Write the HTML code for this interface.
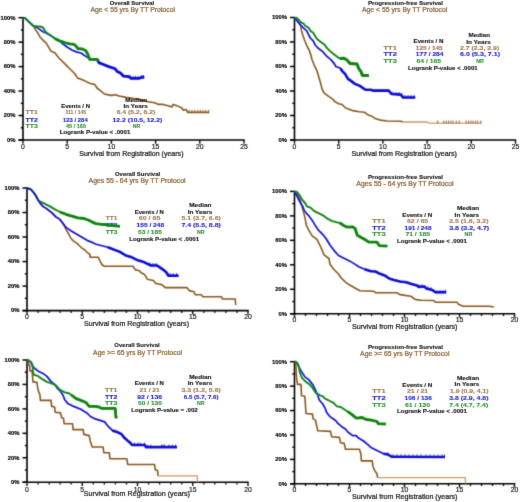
<!DOCTYPE html>
<html><head><meta charset="utf-8"><style>
html,body{margin:0;padding:0;background:#fff;width:520px;height:502px;overflow:hidden}
svg{display:block;font-family:"Liberation Sans", sans-serif}
</style></head><body>
<svg width="520" height="502" viewBox="0 0 520 502">
<defs><filter id="b" x="0" y="0" width="520" height="502" filterUnits="userSpaceOnUse"><feConvolveMatrix order="3" kernelMatrix="0.0192 0.1001 0.0192 0.1001 0.5228 0.1001 0.0192 0.1001 0.0192" edgeMode="none" preserveAlpha="false"/></filter><filter id="bt" x="0" y="0" width="520" height="502" filterUnits="userSpaceOnUse"><feConvolveMatrix order="3" kernelMatrix="0.0052 0.0619 0.0052 0.0619 0.7314 0.0619 0.0052 0.0619 0.0052" edgeMode="none" preserveAlpha="false"/></filter></defs>
<rect width="520" height="502" fill="#fff"/>
<g filter="url(#b)">
<line x1="23.00" y1="17.10" x2="23.00" y2="140.60" stroke="#000" stroke-width="1.6"/>
<line x1="18.50" y1="140.00" x2="244.70" y2="140.00" stroke="#000" stroke-width="1.6"/>
<line x1="18.50" y1="17.70" x2="23.00" y2="17.70" stroke="#000" stroke-width="1.5"/>
<line x1="20.80" y1="29.93" x2="23.00" y2="29.93" stroke="#000" stroke-width="1.4"/>
<line x1="18.50" y1="42.16" x2="23.00" y2="42.16" stroke="#000" stroke-width="1.5"/>
<line x1="20.80" y1="54.39" x2="23.00" y2="54.39" stroke="#000" stroke-width="1.4"/>
<line x1="18.50" y1="66.62" x2="23.00" y2="66.62" stroke="#000" stroke-width="1.5"/>
<line x1="20.80" y1="78.85" x2="23.00" y2="78.85" stroke="#000" stroke-width="1.4"/>
<line x1="18.50" y1="91.08" x2="23.00" y2="91.08" stroke="#000" stroke-width="1.5"/>
<line x1="20.80" y1="103.31" x2="23.00" y2="103.31" stroke="#000" stroke-width="1.4"/>
<line x1="18.50" y1="115.54" x2="23.00" y2="115.54" stroke="#000" stroke-width="1.5"/>
<line x1="20.80" y1="127.77" x2="23.00" y2="127.77" stroke="#000" stroke-width="1.4"/>
<line x1="18.50" y1="140.00" x2="23.00" y2="140.00" stroke="#000" stroke-width="1.5"/>
<line x1="23.00" y1="140.00" x2="23.00" y2="143.80" stroke="#111" stroke-width="1.4"/>
<line x1="67.20" y1="140.00" x2="67.20" y2="143.80" stroke="#111" stroke-width="1.4"/>
<line x1="111.40" y1="140.00" x2="111.40" y2="143.80" stroke="#111" stroke-width="1.4"/>
<line x1="155.60" y1="140.00" x2="155.60" y2="143.80" stroke="#111" stroke-width="1.4"/>
<line x1="199.80" y1="140.00" x2="199.80" y2="143.80" stroke="#111" stroke-width="1.4"/>
<line x1="244.00" y1="140.00" x2="244.00" y2="143.80" stroke="#111" stroke-width="1.4"/>
<polyline points="23.0,17.7 25.0,18.1 33.8,26.5 35.4,29.4 38.5,34.0 40.0,37.0 43.0,40.2 46.2,43.2 51.1,51.3 54.3,52.6 55.0,53.0 58.9,58.0 60.8,59.8 65.4,64.4 70.8,69.8 74.8,73.8 77.5,77.9 84.2,80.6 89.6,83.3 95.0,84.6 97.0,88.0 100.4,90.7 104.4,94.0 111.1,95.4 115.2,94.7 119.2,96.0 126.0,97.4 139.2,99.4 147.2,101.5 154.4,102.7 158.8,104.4 163.1,104.4 168.9,105.9 171.7,107.0 173.2,104.4 177.5,105.9 181.8,108.0 183.3,110.2 186.2,109.5 187.6,112.4 209.3,112.4" fill="none" stroke="#8a561c" stroke-width="1.6" stroke-linejoin="round" stroke-linecap="butt"/>
<line x1="189.2" y1="109.8" x2="189.2" y2="112.8" stroke="#8a561c" stroke-width="0.9"/>
<line x1="192.0" y1="109.8" x2="192.0" y2="112.8" stroke="#8a561c" stroke-width="0.9"/>
<line x1="194.8" y1="109.8" x2="194.8" y2="112.8" stroke="#8a561c" stroke-width="0.9"/>
<line x1="197.8" y1="109.8" x2="197.8" y2="112.8" stroke="#8a561c" stroke-width="0.9"/>
<line x1="200.3" y1="109.8" x2="200.3" y2="112.8" stroke="#8a561c" stroke-width="0.9"/>
<line x1="203.0" y1="109.8" x2="203.0" y2="112.8" stroke="#8a561c" stroke-width="0.9"/>
<line x1="205.8" y1="109.8" x2="205.8" y2="112.8" stroke="#8a561c" stroke-width="0.9"/>
<line x1="208.6" y1="109.8" x2="208.6" y2="112.8" stroke="#8a561c" stroke-width="0.9"/>
<polyline points="23.0,17.7 25.0,18.1 33.8,26.3 36.2,27.1 38.5,28.6 43.0,31.7 45.4,32.8 49.2,34.8 55.0,38.4 60.0,40.8 61.7,43.0 67.5,47.3 72.3,50.2 77.1,52.1 81.0,53.0 83.8,55.0 86.7,56.9 89.6,58.8 97.3,59.8 99.2,62.9 103.5,64.5 108.8,66.6 115.1,68.8 117.2,71.4 120.4,73.0 123.6,76.2 128.9,76.7 131.0,78.3 139.4,78.3 141.6,77.4 144.2,77.4" fill="none" stroke="#1010d8" stroke-width="1.7" stroke-linejoin="round" stroke-linecap="butt"/>
<polyline points="97.3,59.8 99.2,62.9 103.5,64.5 108.8,66.6 115.1,68.8 117.2,71.4 120.4,73.0 123.6,76.2 128.9,76.7 131.0,78.3 139.4,78.3 141.6,77.4 144.2,77.4" fill="none" stroke="#1010d8" stroke-width="2.8" stroke-linejoin="round" stroke-linecap="butt"/>
<polyline points="23.0,17.7 25.0,18.1 33.8,26.3 36.2,26.3 40.8,26.7 43.0,27.5 44.6,30.2 46.2,32.5 50.8,35.5 55.0,38.7 58.8,40.6 64.6,42.5 69.4,43.9 74.2,44.4 76.2,46.3 78.1,48.8 81.9,48.8 85.8,50.7 87.7,54.0 89.1,57.9 89.6,59.3 97.3,59.3 98.3,60.5" fill="none" stroke="#108410" stroke-width="1.9" stroke-linejoin="round" stroke-linecap="butt"/>
<polyline points="55.0,38.7 58.8,40.6 64.6,42.5 69.4,43.9 74.2,44.4 76.2,46.3 78.1,48.8 81.9,48.8 85.8,50.7 87.7,54.0 89.1,57.9 89.6,59.3 97.3,59.3 98.3,60.5" fill="none" stroke="#108410" stroke-width="2.8" stroke-linejoin="round" stroke-linecap="butt"/>
<line x1="130.4" y1="75.4" x2="130.4" y2="77.8" stroke="#1010d8" stroke-width="0.9"/>
<line x1="133.0" y1="75.9" x2="133.0" y2="78.3" stroke="#1010d8" stroke-width="0.9"/>
<line x1="135.5" y1="75.9" x2="135.5" y2="78.3" stroke="#1010d8" stroke-width="0.9"/>
<line x1="138.0" y1="75.9" x2="138.0" y2="78.3" stroke="#1010d8" stroke-width="0.9"/>
<line x1="141.6" y1="75.0" x2="141.6" y2="77.4" stroke="#1010d8" stroke-width="0.9"/>
<line x1="143.5" y1="75.0" x2="143.5" y2="77.4" stroke="#1010d8" stroke-width="0.9"/>
<line x1="294.50" y1="16.90" x2="294.50" y2="140.60" stroke="#000" stroke-width="1.6"/>
<line x1="290.00" y1="140.00" x2="516.20" y2="140.00" stroke="#000" stroke-width="1.6"/>
<line x1="290.00" y1="17.50" x2="294.50" y2="17.50" stroke="#000" stroke-width="1.5"/>
<line x1="292.30" y1="29.75" x2="294.50" y2="29.75" stroke="#000" stroke-width="1.4"/>
<line x1="290.00" y1="42.00" x2="294.50" y2="42.00" stroke="#000" stroke-width="1.5"/>
<line x1="292.30" y1="54.25" x2="294.50" y2="54.25" stroke="#000" stroke-width="1.4"/>
<line x1="290.00" y1="66.50" x2="294.50" y2="66.50" stroke="#000" stroke-width="1.5"/>
<line x1="292.30" y1="78.75" x2="294.50" y2="78.75" stroke="#000" stroke-width="1.4"/>
<line x1="290.00" y1="91.00" x2="294.50" y2="91.00" stroke="#000" stroke-width="1.5"/>
<line x1="292.30" y1="103.25" x2="294.50" y2="103.25" stroke="#000" stroke-width="1.4"/>
<line x1="290.00" y1="115.50" x2="294.50" y2="115.50" stroke="#000" stroke-width="1.5"/>
<line x1="292.30" y1="127.75" x2="294.50" y2="127.75" stroke="#000" stroke-width="1.4"/>
<line x1="290.00" y1="140.00" x2="294.50" y2="140.00" stroke="#000" stroke-width="1.5"/>
<line x1="294.50" y1="140.00" x2="294.50" y2="143.80" stroke="#111" stroke-width="1.4"/>
<line x1="338.70" y1="140.00" x2="338.70" y2="143.80" stroke="#111" stroke-width="1.4"/>
<line x1="382.90" y1="140.00" x2="382.90" y2="143.80" stroke="#111" stroke-width="1.4"/>
<line x1="427.10" y1="140.00" x2="427.10" y2="143.80" stroke="#111" stroke-width="1.4"/>
<line x1="471.30" y1="140.00" x2="471.30" y2="143.80" stroke="#111" stroke-width="1.4"/>
<line x1="515.50" y1="140.00" x2="515.50" y2="143.80" stroke="#111" stroke-width="1.4"/>
<polyline points="294.5,17.6 297.0,20.0 300.7,25.5 301.6,31.3 303.1,36.1 304.5,40.0 306.4,44.8 309.0,49.8 310.8,54.6 311.9,59.3 314.3,65.3 316.7,70.1 318.5,76.1 320.3,82.0 322.1,89.2 323.9,92.8 328.7,96.4 332.3,98.8 335.2,101.9 338.7,103.7 342.1,104.5 345.6,108.0 352.5,110.6 359.4,111.8 364.6,112.3 368.1,114.9 371.5,116.1 375.0,118.4 380.2,120.1 387.1,121.0 401.0,121.3 402.7,122.0" fill="none" stroke="#8a561c" stroke-width="1.6" stroke-linejoin="round" stroke-linecap="butt"/>
<polyline points="402.7,122.0 427.0,122.0 429.2,123.1 481.5,123.1" fill="none" stroke="#c49a60" stroke-width="1.3" stroke-linejoin="round" stroke-linecap="butt"/>
<line x1="437.7" y1="120.5" x2="437.7" y2="123.5" stroke="#8a561c" stroke-width="0.9"/>
<line x1="443.8" y1="120.5" x2="443.8" y2="123.5" stroke="#8a561c" stroke-width="0.9"/>
<line x1="446.2" y1="120.5" x2="446.2" y2="123.5" stroke="#8a561c" stroke-width="0.9"/>
<line x1="448.5" y1="120.5" x2="448.5" y2="123.5" stroke="#8a561c" stroke-width="0.9"/>
<line x1="450.8" y1="120.5" x2="450.8" y2="123.5" stroke="#8a561c" stroke-width="0.9"/>
<line x1="453.0" y1="120.5" x2="453.0" y2="123.5" stroke="#8a561c" stroke-width="0.9"/>
<line x1="456.2" y1="120.5" x2="456.2" y2="123.5" stroke="#8a561c" stroke-width="0.9"/>
<line x1="459.2" y1="120.5" x2="459.2" y2="123.5" stroke="#8a561c" stroke-width="0.9"/>
<line x1="466.2" y1="120.5" x2="466.2" y2="123.5" stroke="#8a561c" stroke-width="0.9"/>
<line x1="468.5" y1="120.5" x2="468.5" y2="123.5" stroke="#8a561c" stroke-width="0.9"/>
<line x1="470.8" y1="120.5" x2="470.8" y2="123.5" stroke="#8a561c" stroke-width="0.9"/>
<line x1="473.0" y1="120.5" x2="473.0" y2="123.5" stroke="#8a561c" stroke-width="0.9"/>
<line x1="475.4" y1="120.5" x2="475.4" y2="123.5" stroke="#8a561c" stroke-width="0.9"/>
<line x1="477.7" y1="120.5" x2="477.7" y2="123.5" stroke="#8a561c" stroke-width="0.9"/>
<line x1="480.8" y1="120.5" x2="480.8" y2="123.5" stroke="#8a561c" stroke-width="0.9"/>
<polyline points="294.5,17.6 297.8,21.7 300.7,25.1 303.5,28.0 306.4,30.3 308.3,34.2 310.3,38.0 313.2,40.9 315.1,44.8 317.9,48.0 322.7,51.6 326.3,55.8 331.1,59.9 334.6,64.1 335.8,66.5 340.6,68.3 342.0,70.9 345.0,73.9 348.0,78.9 351.0,80.9 354.9,83.9 359.9,85.9 363.9,88.8 365.9,89.8 370.9,89.8 372.9,90.6 388.7,90.6 391.5,94.0 400.8,94.6 403.0,97.5 415.2,97.5" fill="none" stroke="#1010d8" stroke-width="1.7" stroke-linejoin="round" stroke-linecap="butt"/>
<polyline points="340.6,68.3 342.0,70.9 345.0,73.9 348.0,78.9 351.0,80.9 354.9,83.9 359.9,85.9 363.9,88.8 365.9,89.8 370.9,89.8 372.9,90.6 388.7,90.6 391.5,94.0 400.8,94.6 403.0,97.5 415.2,97.5" fill="none" stroke="#1010d8" stroke-width="2.6" stroke-linejoin="round" stroke-linecap="butt"/>
<polyline points="294.5,17.6 296.3,17.8 298.7,19.8 300.7,22.2 303.5,23.6 305.5,26.0 308.8,27.9 310.3,30.8 313.2,32.8 315.1,36.1 317.0,39.0 320.8,41.9 324.7,44.8 326.6,47.7 329.5,50.6 333.5,54.0 338.2,57.5 340.0,58.6 344.0,58.2 347.0,60.0 350.0,63.4 357.0,64.0 358.9,68.9 360.9,71.4 362.4,75.4 368.9,75.4" fill="none" stroke="#108410" stroke-width="1.9" stroke-linejoin="round" stroke-linecap="butt"/>
<polyline points="340.0,58.6 344.0,58.2 347.0,60.0 350.0,63.4 357.0,64.0 358.9,68.9 360.9,71.4 362.4,75.4 368.9,75.4" fill="none" stroke="#108410" stroke-width="3.0" stroke-linejoin="round" stroke-linecap="butt"/>
<line x1="393.0" y1="91.7" x2="393.0" y2="94.1" stroke="#1010d8" stroke-width="0.9"/>
<line x1="396.0" y1="91.9" x2="396.0" y2="94.3" stroke="#1010d8" stroke-width="0.9"/>
<line x1="399.0" y1="92.1" x2="399.0" y2="94.5" stroke="#1010d8" stroke-width="0.9"/>
<line x1="401.9" y1="93.6" x2="401.9" y2="96.0" stroke="#1010d8" stroke-width="0.9"/>
<line x1="405.0" y1="95.1" x2="405.0" y2="97.5" stroke="#1010d8" stroke-width="0.9"/>
<line x1="408.0" y1="95.1" x2="408.0" y2="97.5" stroke="#1010d8" stroke-width="0.9"/>
<line x1="411.0" y1="95.1" x2="411.0" y2="97.5" stroke="#1010d8" stroke-width="0.9"/>
<line x1="414.0" y1="95.1" x2="414.0" y2="97.5" stroke="#1010d8" stroke-width="0.9"/>
<line x1="27.00" y1="187.40" x2="27.00" y2="311.20" stroke="#000" stroke-width="1.6"/>
<line x1="22.50" y1="310.60" x2="248.70" y2="310.60" stroke="#000" stroke-width="1.6"/>
<line x1="22.50" y1="188.00" x2="27.00" y2="188.00" stroke="#000" stroke-width="1.5"/>
<line x1="24.80" y1="200.26" x2="27.00" y2="200.26" stroke="#000" stroke-width="1.4"/>
<line x1="22.50" y1="212.52" x2="27.00" y2="212.52" stroke="#000" stroke-width="1.5"/>
<line x1="24.80" y1="224.78" x2="27.00" y2="224.78" stroke="#000" stroke-width="1.4"/>
<line x1="22.50" y1="237.04" x2="27.00" y2="237.04" stroke="#000" stroke-width="1.5"/>
<line x1="24.80" y1="249.30" x2="27.00" y2="249.30" stroke="#000" stroke-width="1.4"/>
<line x1="22.50" y1="261.56" x2="27.00" y2="261.56" stroke="#000" stroke-width="1.5"/>
<line x1="24.80" y1="273.82" x2="27.00" y2="273.82" stroke="#000" stroke-width="1.4"/>
<line x1="22.50" y1="286.08" x2="27.00" y2="286.08" stroke="#000" stroke-width="1.5"/>
<line x1="24.80" y1="298.34" x2="27.00" y2="298.34" stroke="#000" stroke-width="1.4"/>
<line x1="22.50" y1="310.60" x2="27.00" y2="310.60" stroke="#000" stroke-width="1.5"/>
<line x1="27.00" y1="310.60" x2="27.00" y2="314.40" stroke="#111" stroke-width="1.4"/>
<line x1="82.25" y1="310.60" x2="82.25" y2="314.40" stroke="#111" stroke-width="1.4"/>
<line x1="137.50" y1="310.60" x2="137.50" y2="314.40" stroke="#111" stroke-width="1.4"/>
<line x1="192.75" y1="310.60" x2="192.75" y2="314.40" stroke="#111" stroke-width="1.4"/>
<line x1="248.00" y1="310.60" x2="248.00" y2="314.40" stroke="#111" stroke-width="1.4"/>
<line x1="38.05" y1="310.60" x2="38.05" y2="312.90" stroke="#111" stroke-width="1.3"/>
<line x1="49.10" y1="310.60" x2="49.10" y2="312.90" stroke="#111" stroke-width="1.3"/>
<line x1="60.15" y1="310.60" x2="60.15" y2="312.90" stroke="#111" stroke-width="1.3"/>
<line x1="71.20" y1="310.60" x2="71.20" y2="312.90" stroke="#111" stroke-width="1.3"/>
<line x1="93.30" y1="310.60" x2="93.30" y2="312.90" stroke="#111" stroke-width="1.3"/>
<line x1="104.35" y1="310.60" x2="104.35" y2="312.90" stroke="#111" stroke-width="1.3"/>
<line x1="115.40" y1="310.60" x2="115.40" y2="312.90" stroke="#111" stroke-width="1.3"/>
<line x1="126.45" y1="310.60" x2="126.45" y2="312.90" stroke="#111" stroke-width="1.3"/>
<line x1="148.55" y1="310.60" x2="148.55" y2="312.90" stroke="#111" stroke-width="1.3"/>
<line x1="159.60" y1="310.60" x2="159.60" y2="312.90" stroke="#111" stroke-width="1.3"/>
<line x1="170.65" y1="310.60" x2="170.65" y2="312.90" stroke="#111" stroke-width="1.3"/>
<line x1="181.70" y1="310.60" x2="181.70" y2="312.90" stroke="#111" stroke-width="1.3"/>
<line x1="203.80" y1="310.60" x2="203.80" y2="312.90" stroke="#111" stroke-width="1.3"/>
<line x1="214.85" y1="310.60" x2="214.85" y2="312.90" stroke="#111" stroke-width="1.3"/>
<line x1="225.90" y1="310.60" x2="225.90" y2="312.90" stroke="#111" stroke-width="1.3"/>
<line x1="236.95" y1="310.60" x2="236.95" y2="312.90" stroke="#111" stroke-width="1.3"/>
<text x="105.8" y="227.0" textLength="11.7" lengthAdjust="spacingAndGlyphs" fill="#2020d0" stroke="#2020d0" stroke-width="0.12" font-size="6.2" font-weight="bold">TT2</text>
<polyline points="27.0,188.0 31.0,189.5 34.0,193.0 36.0,196.0 38.0,199.9 42.9,206.4 46.9,208.9 51.9,212.9 55.9,216.9 59.9,219.4 62.8,222.8 65.8,228.8 68.4,233.5 70.8,238.2 73.1,240.6 77.9,244.2 81.5,247.8 85.1,250.2 88.7,253.8 90.0,254.3 90.0,257.3 98.4,257.3 99.6,260.3 101.9,264.5 104.3,266.3 133.0,266.3 135.4,269.9 139.0,270.5 141.4,272.9 143.8,274.0 145.0,275.1 147.4,279.3 153.4,280.5 155.8,283.5 161.7,284.6 165.3,287.6 186.8,287.6 189.2,290.6 194.0,291.8 195.2,294.8 201.3,294.8 202.9,296.7 221.5,296.7 222.5,299.0 235.2,299.0 235.7,305.0" fill="none" stroke="#8a561c" stroke-width="1.6" stroke-linejoin="round" stroke-linecap="butt"/>
<polyline points="27.0,188.0 31.0,189.5 34.0,193.0 36.0,196.0 38.0,199.9 39.9,201.4 44.9,203.9 49.9,206.4 54.9,209.4 60.0,212.0 66.0,214.3 71.9,216.1 77.9,217.9 83.9,218.5 88.7,220.3 92.3,222.1 95.8,223.6 100.0,224.2 104.6,224.5 109.2,225.3 115.4,225.8 120.0,226.4" fill="none" stroke="#108410" stroke-width="1.9" stroke-linejoin="round" stroke-linecap="butt"/>
<polyline points="60.0,212.0 66.0,214.3 71.9,216.1 77.9,217.9 83.9,218.5 88.7,220.3 92.3,222.1 95.8,223.6 100.0,224.2 104.6,224.5 109.2,225.3 115.4,225.8 120.0,226.4" fill="none" stroke="#108410" stroke-width="2.8" stroke-linejoin="round" stroke-linecap="butt"/>
<polyline points="27.0,188.0 31.0,189.5 34.0,193.0 36.0,196.0 38.0,199.9 39.9,202.9 42.9,206.4 46.9,208.9 51.9,212.9 55.9,216.9 59.9,219.4 62.4,222.7 66.0,227.5 69.6,229.9 75.5,233.5 81.5,237.0 87.5,240.6 92.3,242.4 96.0,244.2 107.9,247.2 113.9,249.6 119.9,251.9 125.8,255.5 131.8,257.3 137.8,260.3 143.8,262.1 151.0,265.5 157.0,265.5 160.5,267.9 164.1,270.3 166.5,272.7 168.3,275.7 178.5,275.7" fill="none" stroke="#1010d8" stroke-width="1.7" stroke-linejoin="round" stroke-linecap="butt"/>
<polyline points="107.9,247.2 113.9,249.6 119.9,251.9 125.8,255.5 131.8,257.3 137.8,260.3 143.8,262.1 151.0,265.5 157.0,265.5 160.5,267.9 164.1,270.3 166.5,272.7 168.3,275.7 178.5,275.7" fill="none" stroke="#1010d8" stroke-width="2.6" stroke-linejoin="round" stroke-linecap="butt"/>
<line x1="150.0" y1="262.6" x2="150.0" y2="265.0" stroke="#1010d8" stroke-width="0.9"/>
<line x1="153.0" y1="263.1" x2="153.0" y2="265.5" stroke="#1010d8" stroke-width="0.9"/>
<line x1="156.0" y1="263.1" x2="156.0" y2="265.5" stroke="#1010d8" stroke-width="0.9"/>
<line x1="170.0" y1="273.3" x2="170.0" y2="275.7" stroke="#1010d8" stroke-width="0.9"/>
<line x1="173.0" y1="273.3" x2="173.0" y2="275.7" stroke="#1010d8" stroke-width="0.9"/>
<line x1="176.5" y1="273.3" x2="176.5" y2="275.7" stroke="#1010d8" stroke-width="0.9"/>
<line x1="294.50" y1="190.80" x2="294.50" y2="314.35" stroke="#000" stroke-width="1.6"/>
<line x1="290.00" y1="313.75" x2="515.20" y2="313.75" stroke="#000" stroke-width="1.6"/>
<line x1="290.00" y1="191.40" x2="294.50" y2="191.40" stroke="#000" stroke-width="1.5"/>
<line x1="292.30" y1="203.63" x2="294.50" y2="203.63" stroke="#000" stroke-width="1.4"/>
<line x1="290.00" y1="215.87" x2="294.50" y2="215.87" stroke="#000" stroke-width="1.5"/>
<line x1="292.30" y1="228.11" x2="294.50" y2="228.11" stroke="#000" stroke-width="1.4"/>
<line x1="290.00" y1="240.34" x2="294.50" y2="240.34" stroke="#000" stroke-width="1.5"/>
<line x1="292.30" y1="252.57" x2="294.50" y2="252.57" stroke="#000" stroke-width="1.4"/>
<line x1="290.00" y1="264.81" x2="294.50" y2="264.81" stroke="#000" stroke-width="1.5"/>
<line x1="292.30" y1="277.05" x2="294.50" y2="277.05" stroke="#000" stroke-width="1.4"/>
<line x1="290.00" y1="289.28" x2="294.50" y2="289.28" stroke="#000" stroke-width="1.5"/>
<line x1="292.30" y1="301.51" x2="294.50" y2="301.51" stroke="#000" stroke-width="1.4"/>
<line x1="290.00" y1="313.75" x2="294.50" y2="313.75" stroke="#000" stroke-width="1.5"/>
<line x1="294.50" y1="313.75" x2="294.50" y2="317.55" stroke="#111" stroke-width="1.4"/>
<line x1="349.50" y1="313.75" x2="349.50" y2="317.55" stroke="#111" stroke-width="1.4"/>
<line x1="404.50" y1="313.75" x2="404.50" y2="317.55" stroke="#111" stroke-width="1.4"/>
<line x1="459.50" y1="313.75" x2="459.50" y2="317.55" stroke="#111" stroke-width="1.4"/>
<line x1="514.50" y1="313.75" x2="514.50" y2="317.55" stroke="#111" stroke-width="1.4"/>
<line x1="305.50" y1="313.75" x2="305.50" y2="316.05" stroke="#111" stroke-width="1.3"/>
<line x1="316.50" y1="313.75" x2="316.50" y2="316.05" stroke="#111" stroke-width="1.3"/>
<line x1="327.50" y1="313.75" x2="327.50" y2="316.05" stroke="#111" stroke-width="1.3"/>
<line x1="338.50" y1="313.75" x2="338.50" y2="316.05" stroke="#111" stroke-width="1.3"/>
<line x1="360.50" y1="313.75" x2="360.50" y2="316.05" stroke="#111" stroke-width="1.3"/>
<line x1="371.50" y1="313.75" x2="371.50" y2="316.05" stroke="#111" stroke-width="1.3"/>
<line x1="382.50" y1="313.75" x2="382.50" y2="316.05" stroke="#111" stroke-width="1.3"/>
<line x1="393.50" y1="313.75" x2="393.50" y2="316.05" stroke="#111" stroke-width="1.3"/>
<line x1="415.50" y1="313.75" x2="415.50" y2="316.05" stroke="#111" stroke-width="1.3"/>
<line x1="426.50" y1="313.75" x2="426.50" y2="316.05" stroke="#111" stroke-width="1.3"/>
<line x1="437.50" y1="313.75" x2="437.50" y2="316.05" stroke="#111" stroke-width="1.3"/>
<line x1="448.50" y1="313.75" x2="448.50" y2="316.05" stroke="#111" stroke-width="1.3"/>
<line x1="470.50" y1="313.75" x2="470.50" y2="316.05" stroke="#111" stroke-width="1.3"/>
<line x1="481.50" y1="313.75" x2="481.50" y2="316.05" stroke="#111" stroke-width="1.3"/>
<line x1="492.50" y1="313.75" x2="492.50" y2="316.05" stroke="#111" stroke-width="1.3"/>
<line x1="503.50" y1="313.75" x2="503.50" y2="316.05" stroke="#111" stroke-width="1.3"/>
<polyline points="294.5,191.3 297.0,193.0 300.0,200.0 303.0,209.9 304.0,213.9 305.0,217.9 305.9,222.9 306.2,225.0 308.6,229.8 312.2,235.8 317.0,239.3 320.5,246.5 324.1,254.9 328.9,258.5 330.1,264.4 333.7,269.2 338.5,274.0 340.8,277.6 345.6,282.3 349.2,284.7 354.0,287.5 360.0,290.8 373.8,291.2 375.4,292.8 396.9,292.8 400.0,294.6 410.8,296.2 413.8,298.5 416.0,299.6 421.5,300.3 433.8,300.5 435.4,302.3 456.9,302.3 458.5,304.2 463.1,306.2 489.2,306.2 493.8,307.0" fill="none" stroke="#8a561c" stroke-width="1.6" stroke-linejoin="round" stroke-linecap="butt"/>
<polyline points="294.5,191.3 297.0,196.0 300.0,202.0 303.0,206.9 304.0,209.9 305.9,212.9 308.9,215.9 311.9,219.9 314.9,224.9 318.1,229.8 322.9,234.6 326.5,239.3 330.1,245.3 333.7,250.1 338.5,255.5 344.4,258.5 350.4,261.4 355.2,264.4 358.8,266.8 364.6,269.2 370.8,271.2 375.4,271.5 380.0,273.8 384.6,275.4 389.2,278.5 393.8,280.0 400.0,281.5 406.2,282.3 410.8,283.8 416.9,285.4 418.5,286.9 424.6,286.5 426.2,288.5 432.3,290.0 435.4,292.3 446.2,292.3" fill="none" stroke="#1010d8" stroke-width="1.7" stroke-linejoin="round" stroke-linecap="butt"/>
<polyline points="364.6,269.2 370.8,271.2 375.4,271.5 380.0,273.8 384.6,275.4 389.2,278.5 393.8,280.0 400.0,281.5 406.2,282.3 410.8,283.8 416.9,285.4 418.5,286.9 424.6,286.5 426.2,288.5 432.3,290.0 435.4,292.3 446.2,292.3" fill="none" stroke="#1010d8" stroke-width="2.6" stroke-linejoin="round" stroke-linecap="butt"/>
<polyline points="294.5,191.3 297.0,192.0 299.5,195.0 301.5,199.0 305.0,203.0 307.0,206.4 310.9,207.9 313.9,210.9 318.9,213.4 323.9,215.9 327.9,218.9 331.8,220.9 336.8,222.4 340.0,223.0 343.5,225.4 346.9,227.1 352.7,226.8 355.0,228.3 357.3,235.2 360.8,237.2 365.4,239.8 368.8,242.1 376.9,242.1 379.2,245.6 387.3,246.1" fill="none" stroke="#108410" stroke-width="1.9" stroke-linejoin="round" stroke-linecap="butt"/>
<polyline points="340.0,223.0 343.5,225.4 346.9,227.1 352.7,226.8 355.0,228.3 357.3,235.2 360.8,237.2 365.4,239.8 368.8,242.1 376.9,242.1 379.2,245.6 387.3,246.1" fill="none" stroke="#108410" stroke-width="2.8" stroke-linejoin="round" stroke-linecap="butt"/>
<line x1="419.0" y1="284.5" x2="419.0" y2="286.9" stroke="#1010d8" stroke-width="0.9"/>
<line x1="422.0" y1="284.3" x2="422.0" y2="286.7" stroke="#1010d8" stroke-width="0.9"/>
<line x1="428.0" y1="286.5" x2="428.0" y2="288.9" stroke="#1010d8" stroke-width="0.9"/>
<line x1="431.0" y1="287.3" x2="431.0" y2="289.7" stroke="#1010d8" stroke-width="0.9"/>
<line x1="437.0" y1="289.9" x2="437.0" y2="292.3" stroke="#1010d8" stroke-width="0.9"/>
<line x1="440.0" y1="289.9" x2="440.0" y2="292.3" stroke="#1010d8" stroke-width="0.9"/>
<line x1="443.0" y1="289.9" x2="443.0" y2="292.3" stroke="#1010d8" stroke-width="0.9"/>
<line x1="445.5" y1="289.9" x2="445.5" y2="292.3" stroke="#1010d8" stroke-width="0.9"/>
<line x1="27.00" y1="359.40" x2="27.00" y2="482.80" stroke="#000" stroke-width="1.6"/>
<line x1="22.50" y1="482.20" x2="248.70" y2="482.20" stroke="#000" stroke-width="1.6"/>
<line x1="22.50" y1="360.00" x2="27.00" y2="360.00" stroke="#000" stroke-width="1.5"/>
<line x1="24.80" y1="372.22" x2="27.00" y2="372.22" stroke="#000" stroke-width="1.4"/>
<line x1="22.50" y1="384.44" x2="27.00" y2="384.44" stroke="#000" stroke-width="1.5"/>
<line x1="24.80" y1="396.66" x2="27.00" y2="396.66" stroke="#000" stroke-width="1.4"/>
<line x1="22.50" y1="408.88" x2="27.00" y2="408.88" stroke="#000" stroke-width="1.5"/>
<line x1="24.80" y1="421.10" x2="27.00" y2="421.10" stroke="#000" stroke-width="1.4"/>
<line x1="22.50" y1="433.32" x2="27.00" y2="433.32" stroke="#000" stroke-width="1.5"/>
<line x1="24.80" y1="445.54" x2="27.00" y2="445.54" stroke="#000" stroke-width="1.4"/>
<line x1="22.50" y1="457.76" x2="27.00" y2="457.76" stroke="#000" stroke-width="1.5"/>
<line x1="24.80" y1="469.98" x2="27.00" y2="469.98" stroke="#000" stroke-width="1.4"/>
<line x1="22.50" y1="482.20" x2="27.00" y2="482.20" stroke="#000" stroke-width="1.5"/>
<line x1="27.00" y1="482.20" x2="27.00" y2="486.00" stroke="#111" stroke-width="1.4"/>
<line x1="82.25" y1="482.20" x2="82.25" y2="486.00" stroke="#111" stroke-width="1.4"/>
<line x1="137.50" y1="482.20" x2="137.50" y2="486.00" stroke="#111" stroke-width="1.4"/>
<line x1="192.75" y1="482.20" x2="192.75" y2="486.00" stroke="#111" stroke-width="1.4"/>
<line x1="248.00" y1="482.20" x2="248.00" y2="486.00" stroke="#111" stroke-width="1.4"/>
<line x1="38.05" y1="482.20" x2="38.05" y2="484.50" stroke="#111" stroke-width="1.3"/>
<line x1="49.10" y1="482.20" x2="49.10" y2="484.50" stroke="#111" stroke-width="1.3"/>
<line x1="60.15" y1="482.20" x2="60.15" y2="484.50" stroke="#111" stroke-width="1.3"/>
<line x1="71.20" y1="482.20" x2="71.20" y2="484.50" stroke="#111" stroke-width="1.3"/>
<line x1="93.30" y1="482.20" x2="93.30" y2="484.50" stroke="#111" stroke-width="1.3"/>
<line x1="104.35" y1="482.20" x2="104.35" y2="484.50" stroke="#111" stroke-width="1.3"/>
<line x1="115.40" y1="482.20" x2="115.40" y2="484.50" stroke="#111" stroke-width="1.3"/>
<line x1="126.45" y1="482.20" x2="126.45" y2="484.50" stroke="#111" stroke-width="1.3"/>
<line x1="148.55" y1="482.20" x2="148.55" y2="484.50" stroke="#111" stroke-width="1.3"/>
<line x1="159.60" y1="482.20" x2="159.60" y2="484.50" stroke="#111" stroke-width="1.3"/>
<line x1="170.65" y1="482.20" x2="170.65" y2="484.50" stroke="#111" stroke-width="1.3"/>
<line x1="181.70" y1="482.20" x2="181.70" y2="484.50" stroke="#111" stroke-width="1.3"/>
<line x1="203.80" y1="482.20" x2="203.80" y2="484.50" stroke="#111" stroke-width="1.3"/>
<line x1="214.85" y1="482.20" x2="214.85" y2="484.50" stroke="#111" stroke-width="1.3"/>
<line x1="225.90" y1="482.20" x2="225.90" y2="484.50" stroke="#111" stroke-width="1.3"/>
<line x1="236.95" y1="482.20" x2="236.95" y2="484.50" stroke="#111" stroke-width="1.3"/>
<polyline points="27.0,360.0 28.0,360.0 28.5,365.0 29.5,365.0 30.0,370.9 32.0,370.9 32.5,375.9 33.0,381.9 37.0,382.4 37.5,386.9 38.4,390.9 39.9,394.8 40.4,400.4 51.0,400.4 51.6,406.4 54.6,407.0 55.2,412.3 60.5,412.9 61.7,417.7 63.5,418.3 64.1,423.7 72.5,423.7 73.1,429.6 83.2,429.6 83.8,434.4 89.2,435.6 90.4,441.6 92.2,447.0 103.1,447.0 103.8,452.7 109.2,452.7 110.0,458.8 126.9,458.8 127.7,464.5 154.6,464.5 155.2,469.8 157.5,470.4 158.1,475.9" fill="none" stroke="#8a561c" stroke-width="1.6" stroke-linejoin="round" stroke-linecap="butt"/>
<polyline points="158.1,475.9 197.3,475.9 197.5,481.9" fill="none" stroke="#c49a60" stroke-width="1.3" stroke-linejoin="round" stroke-linecap="butt"/>
<polyline points="27.0,360.0 28.0,360.0 31.0,363.0 33.0,367.0 37.9,370.9 42.9,373.4 46.9,376.4 50.9,381.4 54.9,384.4 56.9,387.9 60.9,391.9 62.9,395.0 64.7,399.8 67.7,403.4 73.7,406.4 80.8,409.3 86.8,412.9 90.4,416.5 95.2,418.9 100.0,420.4 104.6,421.9 107.7,425.8 112.3,430.4 116.9,431.9 121.5,434.2 124.6,438.1 129.2,441.9 132.3,445.0 144.6,445.0 146.2,447.1 177.0,447.1" fill="none" stroke="#1010d8" stroke-width="1.7" stroke-linejoin="round" stroke-linecap="butt"/>
<polyline points="112.3,430.4 116.9,431.9 121.5,434.2 124.6,438.1 129.2,441.9 132.3,445.0 144.6,445.0 146.2,447.1 177.0,447.1" fill="none" stroke="#1010d8" stroke-width="2.6" stroke-linejoin="round" stroke-linecap="butt"/>
<polyline points="27.0,360.0 28.0,360.0 31.0,362.0 32.5,365.0 33.0,371.9 34.0,374.9 37.9,375.9 41.9,378.9 46.9,381.9 52.9,383.9 55.9,385.4 59.9,389.9 64.8,392.4 68.8,393.3 71.3,395.0 76.1,398.6 80.8,400.4 85.6,402.2 89.2,406.4 95.2,406.4 99.0,407.0 101.7,408.4 115.2,408.4 115.9,417.1 117.2,417.8" fill="none" stroke="#108410" stroke-width="1.9" stroke-linejoin="round" stroke-linecap="butt"/>
<polyline points="71.3,395.0 76.1,398.6 80.8,400.4 85.6,402.2 89.2,406.4 95.2,406.4 99.0,407.0 101.7,408.4 115.2,408.4 115.9,417.1 117.2,417.8" fill="none" stroke="#108410" stroke-width="2.8" stroke-linejoin="round" stroke-linecap="butt"/>
<line x1="134.6" y1="442.6" x2="134.6" y2="445.0" stroke="#1010d8" stroke-width="0.9"/>
<line x1="137.7" y1="442.6" x2="137.7" y2="445.0" stroke="#1010d8" stroke-width="0.9"/>
<line x1="140.0" y1="442.6" x2="140.0" y2="445.0" stroke="#1010d8" stroke-width="0.9"/>
<line x1="144.6" y1="442.6" x2="144.6" y2="445.0" stroke="#1010d8" stroke-width="0.9"/>
<line x1="147.7" y1="444.7" x2="147.7" y2="447.1" stroke="#1010d8" stroke-width="0.9"/>
<line x1="150.8" y1="444.7" x2="150.8" y2="447.1" stroke="#1010d8" stroke-width="0.9"/>
<line x1="161.5" y1="444.7" x2="161.5" y2="447.1" stroke="#1010d8" stroke-width="0.9"/>
<line x1="163.0" y1="444.7" x2="163.0" y2="447.1" stroke="#1010d8" stroke-width="0.9"/>
<line x1="164.6" y1="444.7" x2="164.6" y2="447.1" stroke="#1010d8" stroke-width="0.9"/>
<line x1="169.2" y1="444.7" x2="169.2" y2="447.1" stroke="#1010d8" stroke-width="0.9"/>
<line x1="172.3" y1="444.7" x2="172.3" y2="447.1" stroke="#1010d8" stroke-width="0.9"/>
<line x1="175.4" y1="444.7" x2="175.4" y2="447.1" stroke="#1010d8" stroke-width="0.9"/>
<line x1="294.50" y1="361.10" x2="294.50" y2="484.40" stroke="#000" stroke-width="1.6"/>
<line x1="290.00" y1="483.80" x2="515.20" y2="483.80" stroke="#000" stroke-width="1.6"/>
<line x1="290.00" y1="361.70" x2="294.50" y2="361.70" stroke="#000" stroke-width="1.5"/>
<line x1="292.30" y1="373.91" x2="294.50" y2="373.91" stroke="#000" stroke-width="1.4"/>
<line x1="290.00" y1="386.12" x2="294.50" y2="386.12" stroke="#000" stroke-width="1.5"/>
<line x1="292.30" y1="398.33" x2="294.50" y2="398.33" stroke="#000" stroke-width="1.4"/>
<line x1="290.00" y1="410.54" x2="294.50" y2="410.54" stroke="#000" stroke-width="1.5"/>
<line x1="292.30" y1="422.75" x2="294.50" y2="422.75" stroke="#000" stroke-width="1.4"/>
<line x1="290.00" y1="434.96" x2="294.50" y2="434.96" stroke="#000" stroke-width="1.5"/>
<line x1="292.30" y1="447.17" x2="294.50" y2="447.17" stroke="#000" stroke-width="1.4"/>
<line x1="290.00" y1="459.38" x2="294.50" y2="459.38" stroke="#000" stroke-width="1.5"/>
<line x1="292.30" y1="471.59" x2="294.50" y2="471.59" stroke="#000" stroke-width="1.4"/>
<line x1="290.00" y1="483.80" x2="294.50" y2="483.80" stroke="#000" stroke-width="1.5"/>
<line x1="294.50" y1="483.80" x2="294.50" y2="487.60" stroke="#111" stroke-width="1.4"/>
<line x1="349.50" y1="483.80" x2="349.50" y2="487.60" stroke="#111" stroke-width="1.4"/>
<line x1="404.50" y1="483.80" x2="404.50" y2="487.60" stroke="#111" stroke-width="1.4"/>
<line x1="459.50" y1="483.80" x2="459.50" y2="487.60" stroke="#111" stroke-width="1.4"/>
<line x1="514.50" y1="483.80" x2="514.50" y2="487.60" stroke="#111" stroke-width="1.4"/>
<line x1="305.50" y1="483.80" x2="305.50" y2="486.10" stroke="#111" stroke-width="1.3"/>
<line x1="316.50" y1="483.80" x2="316.50" y2="486.10" stroke="#111" stroke-width="1.3"/>
<line x1="327.50" y1="483.80" x2="327.50" y2="486.10" stroke="#111" stroke-width="1.3"/>
<line x1="338.50" y1="483.80" x2="338.50" y2="486.10" stroke="#111" stroke-width="1.3"/>
<line x1="360.50" y1="483.80" x2="360.50" y2="486.10" stroke="#111" stroke-width="1.3"/>
<line x1="371.50" y1="483.80" x2="371.50" y2="486.10" stroke="#111" stroke-width="1.3"/>
<line x1="382.50" y1="483.80" x2="382.50" y2="486.10" stroke="#111" stroke-width="1.3"/>
<line x1="393.50" y1="483.80" x2="393.50" y2="486.10" stroke="#111" stroke-width="1.3"/>
<line x1="415.50" y1="483.80" x2="415.50" y2="486.10" stroke="#111" stroke-width="1.3"/>
<line x1="426.50" y1="483.80" x2="426.50" y2="486.10" stroke="#111" stroke-width="1.3"/>
<line x1="437.50" y1="483.80" x2="437.50" y2="486.10" stroke="#111" stroke-width="1.3"/>
<line x1="448.50" y1="483.80" x2="448.50" y2="486.10" stroke="#111" stroke-width="1.3"/>
<line x1="470.50" y1="483.80" x2="470.50" y2="486.10" stroke="#111" stroke-width="1.3"/>
<line x1="481.50" y1="483.80" x2="481.50" y2="486.10" stroke="#111" stroke-width="1.3"/>
<line x1="492.50" y1="483.80" x2="492.50" y2="486.10" stroke="#111" stroke-width="1.3"/>
<line x1="503.50" y1="483.80" x2="503.50" y2="486.10" stroke="#111" stroke-width="1.3"/>
<polyline points="294.5,361.5 295.5,361.5 296.0,368.0 296.5,377.9 297.5,384.4 301.0,384.4 301.5,395.8 304.8,396.2 305.4,404.6 306.0,413.5 312.5,414.1 313.1,418.9 315.5,420.1 316.7,426.1 317.9,430.8 330.5,431.4 331.7,436.8 339.4,437.4 340.6,442.8 344.2,443.4 345.4,449.2 359.4,449.2 360.8,453.5 361.4,460.9 372.2,460.9 372.9,466.2 374.9,471.0 376.9,473.6 377.6,477.7" fill="none" stroke="#8a561c" stroke-width="1.6" stroke-linejoin="round" stroke-linecap="butt"/>
<polyline points="377.6,477.7 465.2,477.7 465.5,483.3" fill="none" stroke="#c49a60" stroke-width="1.3" stroke-linejoin="round" stroke-linecap="butt"/>
<polyline points="294.5,361.5 296.0,362.0 298.0,365.0 301.0,371.0 304.9,376.9 308.9,379.9 312.9,384.9 315.9,390.9 317.9,395.8 319.1,399.8 322.7,404.0 325.1,408.1 326.3,411.7 328.7,415.3 332.3,418.3 335.8,420.7 338.2,423.7 341.8,426.7 345.4,429.0 347.8,432.0 352.6,435.6 356.2,435.6 358.1,437.7 363.5,441.0 367.5,444.4 371.5,447.8 376.9,450.5 383.6,453.8 387.7,454.5 391.7,456.7 445.0,456.9" fill="none" stroke="#1010d8" stroke-width="1.7" stroke-linejoin="round" stroke-linecap="butt"/>
<polyline points="383.6,453.8 387.7,454.5 391.7,456.7 445.0,456.9" fill="none" stroke="#1010d8" stroke-width="2.5" stroke-linejoin="round" stroke-linecap="butt"/>
<polyline points="294.5,361.5 296.0,362.0 298.0,364.0 299.0,368.0 300.0,373.0 302.0,377.9 304.9,380.9 308.9,383.9 311.9,386.9 315.9,392.9 319.9,395.4 322.9,396.3 325.1,398.6 329.9,401.0 333.5,402.8 337.0,406.4 340.6,407.0 344.2,409.3 347.8,411.7 351.4,414.1 355.0,417.1 356.7,418.2 362.1,417.5 366.2,419.5 371.5,420.2 376.9,421.5 378.3,423.6 385.7,424.0" fill="none" stroke="#108410" stroke-width="1.9" stroke-linejoin="round" stroke-linecap="butt"/>
<polyline points="347.8,411.7 351.4,414.1 355.0,417.1 356.7,418.2 362.1,417.5 366.2,419.5 371.5,420.2 376.9,421.5 378.3,423.6 385.7,424.0" fill="none" stroke="#108410" stroke-width="2.8" stroke-linejoin="round" stroke-linecap="butt"/>
<line x1="388.0" y1="452.3" x2="388.0" y2="454.7" stroke="#1010d8" stroke-width="0.9"/>
<line x1="393.0" y1="454.3" x2="393.0" y2="456.7" stroke="#1010d8" stroke-width="0.9"/>
<line x1="397.0" y1="454.3" x2="397.0" y2="456.7" stroke="#1010d8" stroke-width="0.9"/>
<line x1="401.0" y1="454.3" x2="401.0" y2="456.7" stroke="#1010d8" stroke-width="0.9"/>
<line x1="405.0" y1="454.3" x2="405.0" y2="456.7" stroke="#1010d8" stroke-width="0.9"/>
<line x1="409.0" y1="454.4" x2="409.0" y2="456.8" stroke="#1010d8" stroke-width="0.9"/>
<line x1="413.0" y1="454.4" x2="413.0" y2="456.8" stroke="#1010d8" stroke-width="0.9"/>
<line x1="417.0" y1="454.4" x2="417.0" y2="456.8" stroke="#1010d8" stroke-width="0.9"/>
<line x1="421.0" y1="454.4" x2="421.0" y2="456.8" stroke="#1010d8" stroke-width="0.9"/>
<line x1="426.0" y1="454.4" x2="426.0" y2="456.8" stroke="#1010d8" stroke-width="0.9"/>
<line x1="430.0" y1="454.4" x2="430.0" y2="456.8" stroke="#1010d8" stroke-width="0.9"/>
<line x1="434.0" y1="454.5" x2="434.0" y2="456.9" stroke="#1010d8" stroke-width="0.9"/>
<line x1="438.0" y1="454.5" x2="438.0" y2="456.9" stroke="#1010d8" stroke-width="0.9"/>
<line x1="442.0" y1="454.5" x2="442.0" y2="456.9" stroke="#1010d8" stroke-width="0.9"/>
<line x1="444.5" y1="454.5" x2="444.5" y2="456.9" stroke="#1010d8" stroke-width="0.9"/>
</g>
<g filter="url(#bt)">
<text x="0.4" y="19.5" textLength="15.0" lengthAdjust="spacingAndGlyphs" fill="#111" stroke="#111" stroke-width="0.2" font-size="6.2" font-weight="bold">100%</text>
<text x="3.7" y="44.0" textLength="11.7" lengthAdjust="spacingAndGlyphs" fill="#111" stroke="#111" stroke-width="0.2" font-size="6.2" font-weight="bold">80%</text>
<text x="3.7" y="68.4" textLength="11.7" lengthAdjust="spacingAndGlyphs" fill="#111" stroke="#111" stroke-width="0.2" font-size="6.2" font-weight="bold">60%</text>
<text x="3.7" y="92.9" textLength="11.7" lengthAdjust="spacingAndGlyphs" fill="#111" stroke="#111" stroke-width="0.2" font-size="6.2" font-weight="bold">40%</text>
<text x="3.7" y="117.3" textLength="11.7" lengthAdjust="spacingAndGlyphs" fill="#111" stroke="#111" stroke-width="0.2" font-size="6.2" font-weight="bold">20%</text>
<text x="6.9" y="141.8" textLength="8.5" lengthAdjust="spacingAndGlyphs" fill="#111" stroke="#111" stroke-width="0.2" font-size="6.2" font-weight="bold">0%</text>
<text x="23.0" y="149.2" text-anchor="middle" fill="#222" stroke="#222" stroke-width="0.18" font-size="6.8" font-weight="normal">0</text>
<text x="67.2" y="149.2" text-anchor="middle" fill="#222" stroke="#222" stroke-width="0.18" font-size="6.8" font-weight="normal">5</text>
<text x="111.4" y="149.2" text-anchor="middle" fill="#222" stroke="#222" stroke-width="0.18" font-size="6.8" font-weight="normal">10</text>
<text x="155.6" y="149.2" text-anchor="middle" fill="#222" stroke="#222" stroke-width="0.18" font-size="6.8" font-weight="normal">15</text>
<text x="199.8" y="149.2" text-anchor="middle" fill="#222" stroke="#222" stroke-width="0.18" font-size="6.8" font-weight="normal">20</text>
<text x="244.0" y="149.2" text-anchor="middle" fill="#222" stroke="#222" stroke-width="0.18" font-size="6.8" font-weight="normal">25</text>
<text x="109.8" y="5.0" textLength="44.4" lengthAdjust="spacingAndGlyphs" fill="#111" stroke="#111" stroke-width="0.12" font-size="6.2" font-weight="bold">Overall Survival</text>
<text x="90.4" y="12.2" textLength="84.6" lengthAdjust="spacingAndGlyphs" fill="#8a6030" stroke="#8a6030" stroke-width="0.22" font-size="6.6" font-weight="normal">Age &lt; 55 yrs By TT Protocol</text>
<text x="79.2" y="156.0" textLength="104.3" lengthAdjust="spacingAndGlyphs" fill="#1a1a1a" stroke="#1a1a1a" stroke-width="0.22" font-size="6.7" font-weight="normal">Survival from Registration (years)</text>
<text x="25.5" y="114.3" textLength="12.3" lengthAdjust="spacingAndGlyphs" fill="#a07848" stroke="#a07848" stroke-width="0.12" font-size="6.2" font-weight="bold">TT1</text>
<text x="25.5" y="121.6" textLength="12.3" lengthAdjust="spacingAndGlyphs" fill="#2020d0" stroke="#2020d0" stroke-width="0.12" font-size="6.2" font-weight="bold">TT2</text>
<text x="25.5" y="127.9" textLength="12.3" lengthAdjust="spacingAndGlyphs" fill="#289428" stroke="#289428" stroke-width="0.12" font-size="6.2" font-weight="bold">TT3</text>
<text x="61.2" y="108.0" textLength="28.8" lengthAdjust="spacingAndGlyphs" fill="#111" stroke="#111" stroke-width="0.12" font-size="6.2" font-weight="bold">Events / N</text>
<text x="65.5" y="114.3" textLength="20.7" lengthAdjust="spacingAndGlyphs" fill="#a07848" stroke="#a07848" stroke-width="0.12" font-size="6.2" font-weight="bold">111 / 145</text>
<text x="63.0" y="121.6" textLength="24.7" lengthAdjust="spacingAndGlyphs" fill="#2020d0" stroke="#2020d0" stroke-width="0.12" font-size="6.2" font-weight="bold">123 / 284</text>
<text x="66.0" y="127.9" textLength="20.0" lengthAdjust="spacingAndGlyphs" fill="#289428" stroke="#289428" stroke-width="0.12" font-size="6.2" font-weight="bold">45 / 165</text>
<text x="125.3" y="101.5" textLength="21.9" lengthAdjust="spacingAndGlyphs" fill="#111" stroke="#111" stroke-width="0.12" font-size="6.2" font-weight="bold">Median</text>
<text x="123.6" y="107.6" textLength="24.2" lengthAdjust="spacingAndGlyphs" fill="#111" stroke="#111" stroke-width="0.12" font-size="6.2" font-weight="bold">In Years</text>
<text x="116.7" y="114.3" textLength="38.6" lengthAdjust="spacingAndGlyphs" fill="#a07848" stroke="#a07848" stroke-width="0.12" font-size="6.2" font-weight="bold">6.4 (5.2, 8.2)</text>
<text x="112.6" y="121.6" textLength="49.6" lengthAdjust="spacingAndGlyphs" fill="#2020d0" stroke="#2020d0" stroke-width="0.12" font-size="6.2" font-weight="bold">12.2 (10.5, 12.2)</text>
<text x="132.8" y="127.9" textLength="7.5" lengthAdjust="spacingAndGlyphs" fill="#289428" stroke="#289428" stroke-width="0.12" font-size="6.2" font-weight="bold">NR</text>
<text x="59.8" y="134.4" textLength="70.6" lengthAdjust="spacingAndGlyphs" fill="#111" stroke="#111" stroke-width="0.12" font-size="6.2" font-weight="bold">Logrank P-value &lt; .0001</text>
<text x="271.9" y="19.3" textLength="15.0" lengthAdjust="spacingAndGlyphs" fill="#111" stroke="#111" stroke-width="0.2" font-size="6.2" font-weight="bold">100%</text>
<text x="275.2" y="43.8" textLength="11.7" lengthAdjust="spacingAndGlyphs" fill="#111" stroke="#111" stroke-width="0.2" font-size="6.2" font-weight="bold">80%</text>
<text x="275.2" y="68.3" textLength="11.7" lengthAdjust="spacingAndGlyphs" fill="#111" stroke="#111" stroke-width="0.2" font-size="6.2" font-weight="bold">60%</text>
<text x="275.2" y="92.8" textLength="11.7" lengthAdjust="spacingAndGlyphs" fill="#111" stroke="#111" stroke-width="0.2" font-size="6.2" font-weight="bold">40%</text>
<text x="275.2" y="117.3" textLength="11.7" lengthAdjust="spacingAndGlyphs" fill="#111" stroke="#111" stroke-width="0.2" font-size="6.2" font-weight="bold">20%</text>
<text x="278.4" y="141.8" textLength="8.5" lengthAdjust="spacingAndGlyphs" fill="#111" stroke="#111" stroke-width="0.2" font-size="6.2" font-weight="bold">0%</text>
<text x="294.5" y="149.2" text-anchor="middle" fill="#222" stroke="#222" stroke-width="0.18" font-size="6.8" font-weight="normal">0</text>
<text x="338.7" y="149.2" text-anchor="middle" fill="#222" stroke="#222" stroke-width="0.18" font-size="6.8" font-weight="normal">5</text>
<text x="382.9" y="149.2" text-anchor="middle" fill="#222" stroke="#222" stroke-width="0.18" font-size="6.8" font-weight="normal">10</text>
<text x="427.1" y="149.2" text-anchor="middle" fill="#222" stroke="#222" stroke-width="0.18" font-size="6.8" font-weight="normal">15</text>
<text x="471.3" y="149.2" text-anchor="middle" fill="#222" stroke="#222" stroke-width="0.18" font-size="6.8" font-weight="normal">20</text>
<text x="515.5" y="149.2" text-anchor="middle" fill="#222" stroke="#222" stroke-width="0.18" font-size="6.8" font-weight="normal">25</text>
<text x="368.0" y="5.0" textLength="75.0" lengthAdjust="spacingAndGlyphs" fill="#111" stroke="#111" stroke-width="0.12" font-size="6.2" font-weight="bold">Progression-free Survival</text>
<text x="362.0" y="12.2" textLength="85.3" lengthAdjust="spacingAndGlyphs" fill="#8a6030" stroke="#8a6030" stroke-width="0.22" font-size="6.6" font-weight="normal">Age &lt; 55 yrs By TT Protocol</text>
<text x="351.5" y="156.0" textLength="105.5" lengthAdjust="spacingAndGlyphs" fill="#1a1a1a" stroke="#1a1a1a" stroke-width="0.22" font-size="6.7" font-weight="normal">Survival from Registration (years)</text>
<text x="383.5" y="50.0" textLength="13.3" lengthAdjust="spacingAndGlyphs" fill="#a07848" stroke="#a07848" stroke-width="0.12" font-size="6.2" font-weight="bold">TT1</text>
<text x="383.5" y="56.4" textLength="13.3" lengthAdjust="spacingAndGlyphs" fill="#2020d0" stroke="#2020d0" stroke-width="0.12" font-size="6.2" font-weight="bold">TT2</text>
<text x="383.5" y="63.0" textLength="13.3" lengthAdjust="spacingAndGlyphs" fill="#289428" stroke="#289428" stroke-width="0.12" font-size="6.2" font-weight="bold">TT3</text>
<text x="413.5" y="43.0" textLength="30.0" lengthAdjust="spacingAndGlyphs" fill="#111" stroke="#111" stroke-width="0.12" font-size="6.2" font-weight="bold">Events / N</text>
<text x="415.8" y="50.0" textLength="26.9" lengthAdjust="spacingAndGlyphs" fill="#a07848" stroke="#a07848" stroke-width="0.12" font-size="6.2" font-weight="bold">125 / 145</text>
<text x="415.8" y="56.4" textLength="27.7" lengthAdjust="spacingAndGlyphs" fill="#2020d0" stroke="#2020d0" stroke-width="0.12" font-size="6.2" font-weight="bold">177 / 284</text>
<text x="416.5" y="63.0" textLength="24.5" lengthAdjust="spacingAndGlyphs" fill="#289428" stroke="#289428" stroke-width="0.12" font-size="6.2" font-weight="bold">64 / 165</text>
<text x="468.5" y="37.0" textLength="21.5" lengthAdjust="spacingAndGlyphs" fill="#111" stroke="#111" stroke-width="0.12" font-size="6.2" font-weight="bold">Median</text>
<text x="466.2" y="43.5" textLength="24.6" lengthAdjust="spacingAndGlyphs" fill="#111" stroke="#111" stroke-width="0.12" font-size="6.2" font-weight="bold">In Years</text>
<text x="460.0" y="50.0" textLength="39.2" lengthAdjust="spacingAndGlyphs" fill="#a07848" stroke="#a07848" stroke-width="0.12" font-size="6.2" font-weight="bold">2.7 (2.3, 2.9)</text>
<text x="460.0" y="56.4" textLength="40.0" lengthAdjust="spacingAndGlyphs" fill="#2020d0" stroke="#2020d0" stroke-width="0.12" font-size="6.2" font-weight="bold">6.0 (5.3, 7.1)</text>
<text x="476.2" y="63.0" textLength="7.6" lengthAdjust="spacingAndGlyphs" fill="#289428" stroke="#289428" stroke-width="0.12" font-size="6.2" font-weight="bold">NR</text>
<text x="408.0" y="70.0" textLength="69.7" lengthAdjust="spacingAndGlyphs" fill="#111" stroke="#111" stroke-width="0.12" font-size="6.2" font-weight="bold">Logrank P-value &lt; .0001</text>
<text x="4.4" y="189.8" textLength="15.0" lengthAdjust="spacingAndGlyphs" fill="#111" stroke="#111" stroke-width="0.2" font-size="6.2" font-weight="bold">100%</text>
<text x="7.7" y="214.3" textLength="11.7" lengthAdjust="spacingAndGlyphs" fill="#111" stroke="#111" stroke-width="0.2" font-size="6.2" font-weight="bold">80%</text>
<text x="7.7" y="238.8" textLength="11.7" lengthAdjust="spacingAndGlyphs" fill="#111" stroke="#111" stroke-width="0.2" font-size="6.2" font-weight="bold">60%</text>
<text x="7.7" y="263.4" textLength="11.7" lengthAdjust="spacingAndGlyphs" fill="#111" stroke="#111" stroke-width="0.2" font-size="6.2" font-weight="bold">40%</text>
<text x="7.7" y="287.9" textLength="11.7" lengthAdjust="spacingAndGlyphs" fill="#111" stroke="#111" stroke-width="0.2" font-size="6.2" font-weight="bold">20%</text>
<text x="10.9" y="312.4" textLength="8.5" lengthAdjust="spacingAndGlyphs" fill="#111" stroke="#111" stroke-width="0.2" font-size="6.2" font-weight="bold">0%</text>
<text x="27.0" y="319.3" text-anchor="middle" fill="#222" stroke="#222" stroke-width="0.18" font-size="6.8" font-weight="normal">0</text>
<text x="82.2" y="319.3" text-anchor="middle" fill="#222" stroke="#222" stroke-width="0.18" font-size="6.8" font-weight="normal">5</text>
<text x="137.5" y="319.3" text-anchor="middle" fill="#222" stroke="#222" stroke-width="0.18" font-size="6.8" font-weight="normal">10</text>
<text x="192.8" y="319.3" text-anchor="middle" fill="#222" stroke="#222" stroke-width="0.18" font-size="6.8" font-weight="normal">15</text>
<text x="248.0" y="319.3" text-anchor="middle" fill="#222" stroke="#222" stroke-width="0.18" font-size="6.8" font-weight="normal">20</text>
<text x="114.9" y="176.0" textLength="45.3" lengthAdjust="spacingAndGlyphs" fill="#111" stroke="#111" stroke-width="0.12" font-size="6.2" font-weight="bold">Overall Survival</text>
<text x="88.6" y="183.0" textLength="97.0" lengthAdjust="spacingAndGlyphs" fill="#8a6030" stroke="#8a6030" stroke-width="0.22" font-size="6.6" font-weight="normal">Ages 55 - 64 yrs By TT Protocol</text>
<text x="84.0" y="326.1" textLength="105.0" lengthAdjust="spacingAndGlyphs" fill="#1a1a1a" stroke="#1a1a1a" stroke-width="0.22" font-size="6.7" font-weight="normal">Survival from Registration (years)</text>
<text x="105.8" y="220.0" textLength="11.7" lengthAdjust="spacingAndGlyphs" fill="#a07848" stroke="#a07848" stroke-width="0.12" font-size="6.2" font-weight="bold">TT1</text>
<text x="105.8" y="234.0" textLength="11.7" lengthAdjust="spacingAndGlyphs" fill="#289428" stroke="#289428" stroke-width="0.12" font-size="6.2" font-weight="bold">TT3</text>
<text x="134.7" y="213.8" textLength="29.2" lengthAdjust="spacingAndGlyphs" fill="#111" stroke="#111" stroke-width="0.12" font-size="6.2" font-weight="bold">Events / N</text>
<text x="138.8" y="220.0" textLength="21.6" lengthAdjust="spacingAndGlyphs" fill="#a07848" stroke="#a07848" stroke-width="0.12" font-size="6.2" font-weight="bold">60 / 65</text>
<text x="136.5" y="227.0" textLength="27.7" lengthAdjust="spacingAndGlyphs" fill="#2020d0" stroke="#2020d0" stroke-width="0.12" font-size="6.2" font-weight="bold">155 / 248</text>
<text x="138.0" y="234.0" textLength="23.9" lengthAdjust="spacingAndGlyphs" fill="#289428" stroke="#289428" stroke-width="0.12" font-size="6.2" font-weight="bold">53 / 185</text>
<text x="189.2" y="207.3" textLength="22.3" lengthAdjust="spacingAndGlyphs" fill="#111" stroke="#111" stroke-width="0.12" font-size="6.2" font-weight="bold">Median</text>
<text x="187.7" y="213.8" textLength="24.6" lengthAdjust="spacingAndGlyphs" fill="#111" stroke="#111" stroke-width="0.12" font-size="6.2" font-weight="bold">In Years</text>
<text x="181.5" y="220.0" textLength="39.3" lengthAdjust="spacingAndGlyphs" fill="#a07848" stroke="#a07848" stroke-width="0.12" font-size="6.2" font-weight="bold">5.1 (3.7, 6.6)</text>
<text x="181.5" y="227.0" textLength="39.3" lengthAdjust="spacingAndGlyphs" fill="#2020d0" stroke="#2020d0" stroke-width="0.12" font-size="6.2" font-weight="bold">7.4 (5.5, 8.8)</text>
<text x="197.0" y="234.0" textLength="7.6" lengthAdjust="spacingAndGlyphs" fill="#289428" stroke="#289428" stroke-width="0.12" font-size="6.2" font-weight="bold">NR</text>
<text x="129.2" y="240.5" textLength="70.0" lengthAdjust="spacingAndGlyphs" fill="#111" stroke="#111" stroke-width="0.12" font-size="6.2" font-weight="bold">Logrank P-value &lt; .0001</text>
<text x="271.9" y="193.2" textLength="15.0" lengthAdjust="spacingAndGlyphs" fill="#111" stroke="#111" stroke-width="0.2" font-size="6.2" font-weight="bold">100%</text>
<text x="275.2" y="217.7" textLength="11.7" lengthAdjust="spacingAndGlyphs" fill="#111" stroke="#111" stroke-width="0.2" font-size="6.2" font-weight="bold">80%</text>
<text x="275.2" y="242.1" textLength="11.7" lengthAdjust="spacingAndGlyphs" fill="#111" stroke="#111" stroke-width="0.2" font-size="6.2" font-weight="bold">60%</text>
<text x="275.2" y="266.6" textLength="11.7" lengthAdjust="spacingAndGlyphs" fill="#111" stroke="#111" stroke-width="0.2" font-size="6.2" font-weight="bold">40%</text>
<text x="275.2" y="291.1" textLength="11.7" lengthAdjust="spacingAndGlyphs" fill="#111" stroke="#111" stroke-width="0.2" font-size="6.2" font-weight="bold">20%</text>
<text x="278.4" y="315.6" textLength="8.5" lengthAdjust="spacingAndGlyphs" fill="#111" stroke="#111" stroke-width="0.2" font-size="6.2" font-weight="bold">0%</text>
<text x="294.5" y="322.4" text-anchor="middle" fill="#222" stroke="#222" stroke-width="0.18" font-size="6.8" font-weight="normal">0</text>
<text x="349.5" y="322.4" text-anchor="middle" fill="#222" stroke="#222" stroke-width="0.18" font-size="6.8" font-weight="normal">5</text>
<text x="404.5" y="322.4" text-anchor="middle" fill="#222" stroke="#222" stroke-width="0.18" font-size="6.8" font-weight="normal">10</text>
<text x="459.5" y="322.4" text-anchor="middle" fill="#222" stroke="#222" stroke-width="0.18" font-size="6.8" font-weight="normal">15</text>
<text x="514.5" y="322.4" text-anchor="middle" fill="#222" stroke="#222" stroke-width="0.18" font-size="6.8" font-weight="normal">20</text>
<text x="368.0" y="178.5" textLength="75.0" lengthAdjust="spacingAndGlyphs" fill="#111" stroke="#111" stroke-width="0.12" font-size="6.2" font-weight="bold">Progression-free Survival</text>
<text x="356.3" y="185.5" textLength="97.3" lengthAdjust="spacingAndGlyphs" fill="#8a6030" stroke="#8a6030" stroke-width="0.22" font-size="6.6" font-weight="normal">Ages 55 - 64 yrs By TT Protocol</text>
<text x="352.0" y="329.0" textLength="105.5" lengthAdjust="spacingAndGlyphs" fill="#1a1a1a" stroke="#1a1a1a" stroke-width="0.22" font-size="6.7" font-weight="normal">Survival from Registration (years)</text>
<text x="372.3" y="222.7" textLength="13.3" lengthAdjust="spacingAndGlyphs" fill="#a07848" stroke="#a07848" stroke-width="0.12" font-size="6.2" font-weight="bold">TT1</text>
<text x="372.3" y="230.0" textLength="13.3" lengthAdjust="spacingAndGlyphs" fill="#2020d0" stroke="#2020d0" stroke-width="0.12" font-size="6.2" font-weight="bold">TT2</text>
<text x="372.3" y="236.3" textLength="13.3" lengthAdjust="spacingAndGlyphs" fill="#289428" stroke="#289428" stroke-width="0.12" font-size="6.2" font-weight="bold">TT3</text>
<text x="402.3" y="216.5" textLength="30.0" lengthAdjust="spacingAndGlyphs" fill="#111" stroke="#111" stroke-width="0.12" font-size="6.2" font-weight="bold">Events / N</text>
<text x="407.0" y="222.7" textLength="21.2" lengthAdjust="spacingAndGlyphs" fill="#a07848" stroke="#a07848" stroke-width="0.12" font-size="6.2" font-weight="bold">62 / 65</text>
<text x="404.6" y="230.0" textLength="26.9" lengthAdjust="spacingAndGlyphs" fill="#2020d0" stroke="#2020d0" stroke-width="0.12" font-size="6.2" font-weight="bold">191 / 248</text>
<text x="405.4" y="236.3" textLength="24.6" lengthAdjust="spacingAndGlyphs" fill="#289428" stroke="#289428" stroke-width="0.12" font-size="6.2" font-weight="bold">71 / 185</text>
<text x="456.9" y="209.6" textLength="22.3" lengthAdjust="spacingAndGlyphs" fill="#111" stroke="#111" stroke-width="0.12" font-size="6.2" font-weight="bold">Median</text>
<text x="454.6" y="216.5" textLength="24.6" lengthAdjust="spacingAndGlyphs" fill="#111" stroke="#111" stroke-width="0.12" font-size="6.2" font-weight="bold">In Years</text>
<text x="449.2" y="222.7" textLength="39.3" lengthAdjust="spacingAndGlyphs" fill="#a07848" stroke="#a07848" stroke-width="0.12" font-size="6.2" font-weight="bold">2.5 (1.6, 3.2)</text>
<text x="449.2" y="230.0" textLength="40.0" lengthAdjust="spacingAndGlyphs" fill="#2020d0" stroke="#2020d0" stroke-width="0.12" font-size="6.2" font-weight="bold">3.8 (3.2, 4.7)</text>
<text x="464.6" y="236.3" textLength="7.7" lengthAdjust="spacingAndGlyphs" fill="#289428" stroke="#289428" stroke-width="0.12" font-size="6.2" font-weight="bold">NR</text>
<text x="397.0" y="243.0" textLength="69.9" lengthAdjust="spacingAndGlyphs" fill="#111" stroke="#111" stroke-width="0.12" font-size="6.2" font-weight="bold">Logrank P-value &lt; .0001</text>
<text x="4.4" y="361.8" textLength="15.0" lengthAdjust="spacingAndGlyphs" fill="#111" stroke="#111" stroke-width="0.2" font-size="6.2" font-weight="bold">100%</text>
<text x="7.7" y="386.2" textLength="11.7" lengthAdjust="spacingAndGlyphs" fill="#111" stroke="#111" stroke-width="0.2" font-size="6.2" font-weight="bold">80%</text>
<text x="7.7" y="410.7" textLength="11.7" lengthAdjust="spacingAndGlyphs" fill="#111" stroke="#111" stroke-width="0.2" font-size="6.2" font-weight="bold">60%</text>
<text x="7.7" y="435.1" textLength="11.7" lengthAdjust="spacingAndGlyphs" fill="#111" stroke="#111" stroke-width="0.2" font-size="6.2" font-weight="bold">40%</text>
<text x="7.7" y="459.6" textLength="11.7" lengthAdjust="spacingAndGlyphs" fill="#111" stroke="#111" stroke-width="0.2" font-size="6.2" font-weight="bold">20%</text>
<text x="10.9" y="484.0" textLength="8.5" lengthAdjust="spacingAndGlyphs" fill="#111" stroke="#111" stroke-width="0.2" font-size="6.2" font-weight="bold">0%</text>
<text x="27.0" y="491.5" text-anchor="middle" fill="#222" stroke="#222" stroke-width="0.18" font-size="6.8" font-weight="normal">0</text>
<text x="82.2" y="491.5" text-anchor="middle" fill="#222" stroke="#222" stroke-width="0.18" font-size="6.8" font-weight="normal">5</text>
<text x="137.5" y="491.5" text-anchor="middle" fill="#222" stroke="#222" stroke-width="0.18" font-size="6.8" font-weight="normal">10</text>
<text x="192.8" y="491.5" text-anchor="middle" fill="#222" stroke="#222" stroke-width="0.18" font-size="6.8" font-weight="normal">15</text>
<text x="248.0" y="491.5" text-anchor="middle" fill="#222" stroke="#222" stroke-width="0.18" font-size="6.8" font-weight="normal">20</text>
<text x="114.3" y="347.0" textLength="45.4" lengthAdjust="spacingAndGlyphs" fill="#111" stroke="#111" stroke-width="0.12" font-size="6.2" font-weight="bold">Overall Survival</text>
<text x="93.1" y="354.6" textLength="88.9" lengthAdjust="spacingAndGlyphs" fill="#8a6030" stroke="#8a6030" stroke-width="0.22" font-size="6.6" font-weight="normal">Age &gt;= 65 yrs By TT Protocol</text>
<text x="83.8" y="496.2" textLength="106.2" lengthAdjust="spacingAndGlyphs" fill="#1a1a1a" stroke="#1a1a1a" stroke-width="0.22" font-size="6.7" font-weight="normal">Survival from Registration (years)</text>
<text x="105.0" y="391.5" textLength="12.5" lengthAdjust="spacingAndGlyphs" fill="#a07848" stroke="#a07848" stroke-width="0.12" font-size="6.2" font-weight="bold">TT1</text>
<text x="105.0" y="398.8" textLength="12.5" lengthAdjust="spacingAndGlyphs" fill="#2020d0" stroke="#2020d0" stroke-width="0.12" font-size="6.2" font-weight="bold">TT2</text>
<text x="105.0" y="405.0" textLength="12.5" lengthAdjust="spacingAndGlyphs" fill="#289428" stroke="#289428" stroke-width="0.12" font-size="6.2" font-weight="bold">TT3</text>
<text x="134.7" y="385.0" textLength="29.2" lengthAdjust="spacingAndGlyphs" fill="#111" stroke="#111" stroke-width="0.12" font-size="6.2" font-weight="bold">Events / N</text>
<text x="139.6" y="391.5" textLength="20.0" lengthAdjust="spacingAndGlyphs" fill="#a07848" stroke="#a07848" stroke-width="0.12" font-size="6.2" font-weight="bold">21 / 21</text>
<text x="137.3" y="398.8" textLength="24.7" lengthAdjust="spacingAndGlyphs" fill="#2020d0" stroke="#2020d0" stroke-width="0.12" font-size="6.2" font-weight="bold">92 / 136</text>
<text x="138.0" y="405.0" textLength="24.0" lengthAdjust="spacingAndGlyphs" fill="#289428" stroke="#289428" stroke-width="0.12" font-size="6.2" font-weight="bold">50 / 130</text>
<text x="189.2" y="378.8" textLength="22.3" lengthAdjust="spacingAndGlyphs" fill="#111" stroke="#111" stroke-width="0.12" font-size="6.2" font-weight="bold">Median</text>
<text x="187.7" y="385.0" textLength="24.6" lengthAdjust="spacingAndGlyphs" fill="#111" stroke="#111" stroke-width="0.12" font-size="6.2" font-weight="bold">In Years</text>
<text x="181.5" y="391.5" textLength="39.3" lengthAdjust="spacingAndGlyphs" fill="#a07848" stroke="#a07848" stroke-width="0.12" font-size="6.2" font-weight="bold">3.3 (1.2, 5.6)</text>
<text x="183.8" y="398.8" textLength="34.7" lengthAdjust="spacingAndGlyphs" fill="#2020d0" stroke="#2020d0" stroke-width="0.12" font-size="6.2" font-weight="bold">6.5 (5.7, 7.6)</text>
<text x="197.0" y="405.0" textLength="7.6" lengthAdjust="spacingAndGlyphs" fill="#289428" stroke="#289428" stroke-width="0.12" font-size="6.2" font-weight="bold">NR</text>
<text x="131.2" y="411.8" textLength="66.5" lengthAdjust="spacingAndGlyphs" fill="#111" stroke="#111" stroke-width="0.12" font-size="6.2" font-weight="bold">Logrank P-value = .002</text>
<text x="271.9" y="363.5" textLength="15.0" lengthAdjust="spacingAndGlyphs" fill="#111" stroke="#111" stroke-width="0.2" font-size="6.2" font-weight="bold">100%</text>
<text x="275.2" y="387.9" textLength="11.7" lengthAdjust="spacingAndGlyphs" fill="#111" stroke="#111" stroke-width="0.2" font-size="6.2" font-weight="bold">80%</text>
<text x="275.2" y="412.3" textLength="11.7" lengthAdjust="spacingAndGlyphs" fill="#111" stroke="#111" stroke-width="0.2" font-size="6.2" font-weight="bold">60%</text>
<text x="275.2" y="436.8" textLength="11.7" lengthAdjust="spacingAndGlyphs" fill="#111" stroke="#111" stroke-width="0.2" font-size="6.2" font-weight="bold">40%</text>
<text x="275.2" y="461.2" textLength="11.7" lengthAdjust="spacingAndGlyphs" fill="#111" stroke="#111" stroke-width="0.2" font-size="6.2" font-weight="bold">20%</text>
<text x="278.4" y="485.6" textLength="8.5" lengthAdjust="spacingAndGlyphs" fill="#111" stroke="#111" stroke-width="0.2" font-size="6.2" font-weight="bold">0%</text>
<text x="294.5" y="491.8" text-anchor="middle" fill="#222" stroke="#222" stroke-width="0.18" font-size="6.8" font-weight="normal">0</text>
<text x="349.5" y="491.8" text-anchor="middle" fill="#222" stroke="#222" stroke-width="0.18" font-size="6.8" font-weight="normal">5</text>
<text x="404.5" y="491.8" text-anchor="middle" fill="#222" stroke="#222" stroke-width="0.18" font-size="6.8" font-weight="normal">10</text>
<text x="459.5" y="491.8" text-anchor="middle" fill="#222" stroke="#222" stroke-width="0.18" font-size="6.8" font-weight="normal">15</text>
<text x="514.5" y="491.8" text-anchor="middle" fill="#222" stroke="#222" stroke-width="0.18" font-size="6.8" font-weight="normal">20</text>
<text x="368.0" y="349.0" textLength="75.0" lengthAdjust="spacingAndGlyphs" fill="#111" stroke="#111" stroke-width="0.12" font-size="6.2" font-weight="bold">Progression-free Survival</text>
<text x="360.1" y="355.8" textLength="89.3" lengthAdjust="spacingAndGlyphs" fill="#8a6030" stroke="#8a6030" stroke-width="0.22" font-size="6.6" font-weight="normal">Age &gt;= 65 yrs By TT Protocol</text>
<text x="352.0" y="499.0" textLength="105.5" lengthAdjust="spacingAndGlyphs" fill="#1a1a1a" stroke="#1a1a1a" stroke-width="0.22" font-size="6.7" font-weight="normal">Survival from Registration (years)</text>
<text x="372.3" y="392.7" textLength="13.3" lengthAdjust="spacingAndGlyphs" fill="#a07848" stroke="#a07848" stroke-width="0.12" font-size="6.2" font-weight="bold">TT1</text>
<text x="372.3" y="400.2" textLength="13.3" lengthAdjust="spacingAndGlyphs" fill="#2020d0" stroke="#2020d0" stroke-width="0.12" font-size="6.2" font-weight="bold">TT2</text>
<text x="372.3" y="406.5" textLength="13.3" lengthAdjust="spacingAndGlyphs" fill="#289428" stroke="#289428" stroke-width="0.12" font-size="6.2" font-weight="bold">TT3</text>
<text x="402.3" y="386.8" textLength="30.0" lengthAdjust="spacingAndGlyphs" fill="#111" stroke="#111" stroke-width="0.12" font-size="6.2" font-weight="bold">Events / N</text>
<text x="407.0" y="392.7" textLength="21.2" lengthAdjust="spacingAndGlyphs" fill="#a07848" stroke="#a07848" stroke-width="0.12" font-size="6.2" font-weight="bold">21 / 21</text>
<text x="404.6" y="400.2" textLength="27.2" lengthAdjust="spacingAndGlyphs" fill="#2020d0" stroke="#2020d0" stroke-width="0.12" font-size="6.2" font-weight="bold">106 / 136</text>
<text x="405.0" y="406.5" textLength="25.0" lengthAdjust="spacingAndGlyphs" fill="#289428" stroke="#289428" stroke-width="0.12" font-size="6.2" font-weight="bold">61 / 130</text>
<text x="456.9" y="379.6" textLength="22.3" lengthAdjust="spacingAndGlyphs" fill="#111" stroke="#111" stroke-width="0.12" font-size="6.2" font-weight="bold">Median</text>
<text x="454.6" y="386.2" textLength="24.9" lengthAdjust="spacingAndGlyphs" fill="#111" stroke="#111" stroke-width="0.12" font-size="6.2" font-weight="bold">In Years</text>
<text x="450.0" y="392.7" textLength="38.5" lengthAdjust="spacingAndGlyphs" fill="#a07848" stroke="#a07848" stroke-width="0.12" font-size="6.2" font-weight="bold">1.9 (0.9, 4.1)</text>
<text x="449.2" y="400.2" textLength="39.3" lengthAdjust="spacingAndGlyphs" fill="#2020d0" stroke="#2020d0" stroke-width="0.12" font-size="6.2" font-weight="bold">3.8 (2.9, 4.8)</text>
<text x="449.2" y="406.5" textLength="39.0" lengthAdjust="spacingAndGlyphs" fill="#289428" stroke="#289428" stroke-width="0.12" font-size="6.2" font-weight="bold">7.4 (4.7, 7.4)</text>
<text x="397.0" y="413.0" textLength="69.9" lengthAdjust="spacingAndGlyphs" fill="#111" stroke="#111" stroke-width="0.12" font-size="6.2" font-weight="bold">Logrank P-value &lt; .0001</text>
</g></svg></body></html>
